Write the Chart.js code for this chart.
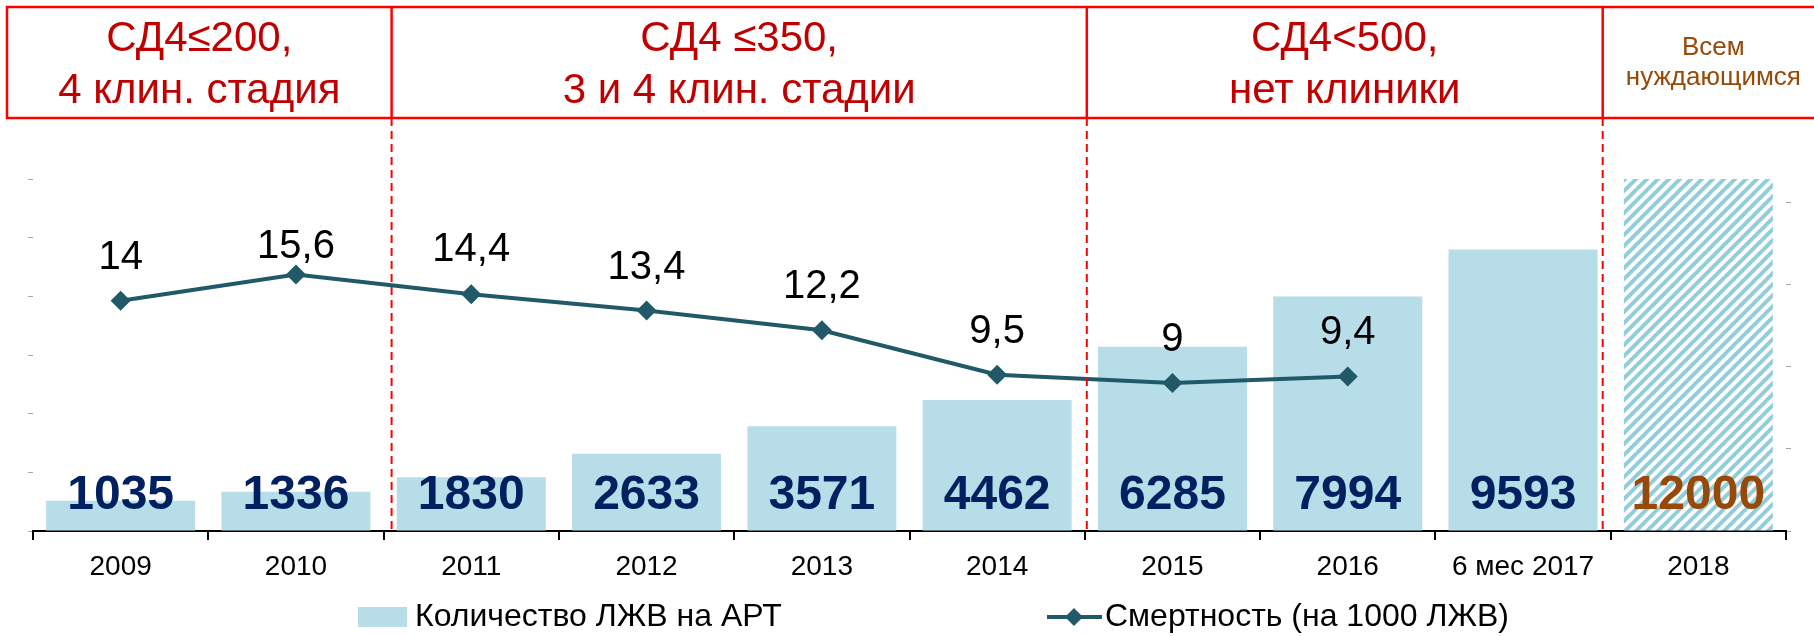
<!DOCTYPE html>
<html lang="ru">
<head>
<meta charset="UTF-8">
<title>Количество ЛЖВ на АРТ и смертность</title>
<script src="https://cdn.jsdelivr.net/npm/chart.js@4/dist/chart.umd.min.js"></script>
<style>
  body { margin: 0; background: #ffffff; }
  .chart-wrap { position: relative; width: 1814px; height: 636px; }
</style>
</head>
<body>
<div class="chart-wrap"><canvas id="artChart"></canvas></div>
<script>
// данные
const categories = ['2009', '2010', '2011', '2012', '2013', '2014', '2015', '2016', '6 мес 2017', '2018'];
const artCounts = [1035, 1336, 1830, 2633, 3571, 4462, 6285, 7994, 9593, 12000];
const mortality = [14, 15.6, 14.4, 13.4, 12.2, 9.5, 9, 9.4, null, null];
const leftMax = 12000;
const leftStep = 2000;
const rightMax = 21.4;
const rightStep = 5;
const rightTop = 20;
const stageStart = [0, 2, 6, 9];
const stageLines = [
  ['СД4≤200,', '4 клин. стадия'],
  ['СД4 ≤350,', '3 и 4 клин. стадии'],
  ['СД4<500,', 'нет клиники'],
  ['Всем', 'нуждающимся']
];
const legendNames = ['Количество ЛЖВ на АРТ', 'Смертность (на 1000 ЛЖВ)'];

const FONT = "'Liberation Sans', Arial, sans-serif";
const BAR_BLUE = '#B7DDE8';
const LINE_TEAL = '#215968';
const RED = '#FF0000';
const TEXT_RED = '#C00000';
const BROWN = '#984807';
const NAVY = '#002060';

Chart.defaults.font.family = FONT;

const canvas = document.getElementById('artChart');
const ctx = canvas.getContext('2d');

// штриховка для плана 2018
function makeHatch() {
  const s = 11;
  const c = document.createElement('canvas');
  c.width = s;
  c.height = s;
  const g = c.getContext('2d');
  g.fillStyle = '#ffffff';
  g.fillRect(0, 0, s, s);
  g.strokeStyle = '#92CDDC';
  g.lineWidth = 4;
  g.beginPath();
  g.moveTo(-s / 2, s / 2); g.lineTo(s / 2, -s / 2);
  g.moveTo(0, s); g.lineTo(s, 0);
  g.moveTo(s / 2, 1.5 * s); g.lineTo(1.5 * s, s / 2);
  g.stroke();
  return ctx.createPattern(c, 'repeat');
}
const hatch = makeHatch();

const dividerNudge = [8, 2, -8];
// подписи над точками стоят не на одинаковом расстоянии
const labelLift = [32, 16, 33, 32, 32, 32, 32, 32];
const boxTop = 7;
const boxBottom = 118;

const decor = {
  id: 'decor',
  afterDatasetsDraw(chart) {
    const c = chart.ctx;
    const area = chart.chartArea;
    const x = chart.scales.x;
    const half = (x.getPixelForValue(1) - x.getPixelForValue(0)) / 2;
    const cuts = stageStart.slice(1).map((s, k) => x.getPixelForValue(s) - half + dividerNudge[k]);

    c.save();
    // пунктирные разделители
    c.strokeStyle = RED;
    c.lineWidth = 2;
    c.setLineDash([8, 5]);
    cuts.forEach(cx => {
      c.beginPath();
      c.moveTo(cx, boxBottom);
      c.lineTo(cx, area.bottom);
      c.stroke();
    });
    c.setLineDash([]);

    // рамка заголовка
    c.lineWidth = 2.5;
    c.strokeRect(7, boxTop, chart.width + 20, boxBottom - boxTop);
    cuts.forEach(cx => {
      c.beginPath();
      c.moveTo(cx, boxTop);
      c.lineTo(cx, boxBottom);
      c.stroke();
    });

    const edges = [7].concat(cuts, [chart.width + 10]);
    c.textAlign = 'center';
    c.textBaseline = 'middle';
    stageLines.forEach((lines, i) => {
      const cx = (edges[i] + edges[i + 1]) / 2;
      const last = i === stageLines.length - 1;
      c.fillStyle = last ? BROWN : TEXT_RED;
      c.font = (last ? 26 : 42) + 'px ' + FONT;
      const ys = last ? [48, 78] : [39, 91];
      lines.forEach((t, j) => c.fillText(t, cx, ys[j]));
    });

    // подписи столбцов
    const barMeta = chart.getDatasetMeta(0);
    c.font = 'bold 48px ' + FONT;
    c.textBaseline = 'alphabetic';
    barMeta.data.forEach((el, i) => {
      c.fillStyle = i === artCounts.length - 1 ? BROWN : NAVY;
      c.fillText(String(artCounts[i]), el.x, area.bottom - 22);
    });

    // подписи линии
    const lineMeta = chart.getDatasetMeta(1);
    c.font = '40px ' + FONT;
    c.fillStyle = '#000000';
    lineMeta.data.forEach((el, i) => {
      if (mortality[i] == null) return;
      c.fillText(String(mortality[i]).replace('.', ','), el.x, el.y - labelLift[i]);
    });

    // легенда
    const ly = 617;
    c.textAlign = 'left';
    c.textBaseline = 'middle';
    c.font = '32px ' + FONT;
    c.fillStyle = BAR_BLUE;
    c.fillRect(358, ly - 10, 49, 20);
    c.fillStyle = '#000000';
    c.fillText(legendNames[0], 415, ly);

    c.strokeStyle = LINE_TEAL;
    c.lineWidth = 4;
    c.beginPath();
    c.moveTo(1047, ly);
    c.lineTo(1102, ly);
    c.stroke();
    c.fillStyle = LINE_TEAL;
    c.beginPath();
    c.moveTo(1074 - 9, ly); c.lineTo(1074, ly - 9); c.lineTo(1074 + 9, ly); c.lineTo(1074, ly + 9);
    c.closePath();
    c.fill();
    c.fillStyle = '#000000';
    c.fillText(legendNames[1], 1105, ly);
    c.restore();
  }
};

new Chart(ctx, {
  type: 'bar',
  data: {
    labels: categories,
    datasets: [
      {
        label: legendNames[0],
        data: artCounts,
        backgroundColor: artCounts.map((v, i) => (i === artCounts.length - 1 ? hatch : BAR_BLUE)),
        categoryPercentage: 0.85,
        barPercentage: 1,
        yAxisID: 'y',
        order: 2
      },
      {
        type: 'line',
        label: legendNames[1],
        data: mortality,
        borderColor: LINE_TEAL,
        backgroundColor: LINE_TEAL,
        borderWidth: 4,
        pointStyle: 'rectRot',
        pointRadius: 10,
        pointBorderWidth: 0,
        pointBackgroundColor: LINE_TEAL,
        yAxisID: 'y1',
        order: 1
      }
    ]
  },
  options: {
    responsive: true,
    maintainAspectRatio: false,
    animation: false,
    layout: { padding: { top: 179, bottom: 50, left: 0, right: 0 } },
    plugins: { legend: { display: false }, tooltip: { enabled: false } },
    scales: {
      x: {
        offset: true,
        grid: { display: true, drawOnChartArea: false, offset: true, tickLength: 9, color: '#000000', lineWidth: 2 },
        border: { display: true, color: '#000000', width: 2 },
        ticks: { color: '#000000', font: { size: 28 }, padding: 10, maxRotation: 0, autoSkip: false },
        afterFit: s => { s.height = 55; }
      },
      y: {
        position: 'left',
        min: 0,
        max: leftMax,
        ticks: { stepSize: leftStep, callback: () => '' },
        grid: { drawOnChartArea: false, tickLength: 5, color: '#A6A6A6' },
        border: { display: false },
        afterFit: s => { s.width = 33; }
      },
      y1: {
        position: 'right',
        min: 0,
        max: rightMax,
        ticks: { stepSize: rightStep, callback: () => '' },
        afterBuildTicks: s => { s.ticks = s.ticks.filter(t => t.value <= rightTop); },
        grid: { drawOnChartArea: false, tickLength: 5, color: '#A6A6A6' },
        border: { display: false },
        afterFit: s => { s.width = 28; }
      }
    }
  },
  plugins: [decor]
});
</script>
</body>
</html>
